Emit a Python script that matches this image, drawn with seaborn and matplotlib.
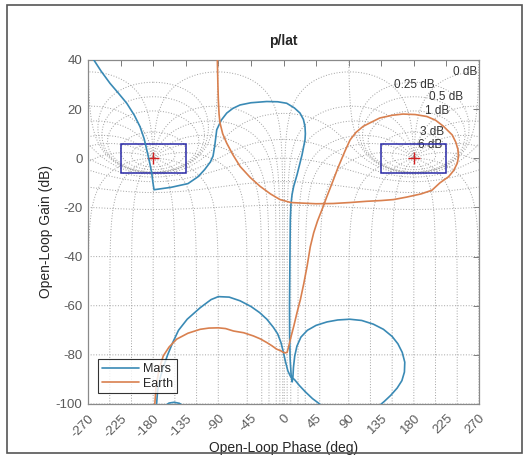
import numpy as np
import pandas as pd
import matplotlib
matplotlib.use("Agg")
import matplotlib.pyplot as plt
from matplotlib.lines import Line2D
from matplotlib.patches import Rectangle
import seaborn as sns

# ---- open-loop frequency responses (phase in deg, gain in dB) ----
mars_phase_a = [-263, -252, -239.6, -228, -216.5, -206, -198.2, -192.5, -188.9, -185, -182,
                -180.5, -178.8, -155, -131.9, -118, -108.9, -101, -97.3, -95, -92.2, -86,
                -78.4, -70, -60, -45, -23.2, -8, 4.4, 15, 22.8, 27.5, 29.7, 30.2, 29.7, 25.6,
                18.7, 14, 11.8, 10.2, 9.4, 9, 8.6, 8.3, 8.5, 9.2, 10.5, 12, 13, 13.8, 15.5,
                18.5, 24, 33, 45, 60, 75, 91.5, 108, 124, 138, 150, 158, 164, 167.5, 167,
                163.5, 157, 148, 139, 131]
mars_gain_a = [40.5, 35.5, 30.5, 26.5, 22.4, 17.5, 12.9, 8, 3.5, -1.5, -6,
               -9.5, -12.8, -11.8, -10.3, -7.5, -4.6, -1.5, 0.9, 5, 11.6, 15.5,
               18.4, 20.3, 21.7, 22.6, 23.1, 23, 22.4, 20.5, 18.4, 15.8, 12.9, 10, 7.5, 1.4,
               -6.7, -11.5, -14.8, -19, -25, -37, -50, -60, -73, -82, -88, -91, -89, -85, -80.5,
               -76.5, -72.8, -70, -68, -66.6, -65.8, -65.5, -66, -67.5, -69.6, -72.5, -75.5, -79,
               -83, -87, -90.5, -93.5, -96.5, -99, -101]

mars_phase_b = [-175.5, -174, -171, -166, -160, -153, -145, -133, -115, -100, -90, -75, -60,
                -45, -33, -23, -14, -8, -3.5, -0.5, 2.5, 6, 10, 15, 22, 30, 40, 50, 53]
mars_gain_b = [-101, -95, -90, -85, -80, -75, -70, -65.5, -60.8, -57.5, -56.3, -56.5, -58,
               -60.3, -62.8, -65.5, -68.8, -71.5, -75, -78.5, -82.5, -86.5, -89, -90, -92.5,
               -95, -97.8, -100, -101]

mars_phase_c = [-163, -158, -151, -144, -139]
mars_gain_c = [-100.6, -99.6, -99.3, -99.7, -100.6]

earth_phase = [-91.4, -91, -90.6, -90, -89, -87.7, -84, -78.5, -70, -60, -46, -32.4, -18, -4.8,
               10, 23, 45, 68.7, 92, 115, 135, 152, 170, 190, 205, 216, 228, 235, 240, 241.6,
               241, 238, 233, 221, 210, 198, 182, 165, 150, 133, 120, 110, 100, 92, 85, 80, 75,
               69, 64, 60, 53, 47, 41.7, 37, 32.6, 28, 23.4, 18.5, 14.3, 10.5, 7.4, 5, 2, -0.3,
               -4, -9.4, -16, -23, -32, -41.6, -55, -69, -80, -90, -103, -115, -132, -147.5,
               -158, -166, -172, -176, -178]
earth_gain = [40.5, 35, 30, 23.8, 18, 14.4, 10, 6.2, 1.5, -3.3, -7.8, -11.4, -14.5, -16.8,
              -18, -18.2, -18.5, -18.4, -18, -17.5, -17.2, -16.8, -15.8, -14.5, -13, -10, -7.5,
              -5, -2, 0.5, 3.5, 6.5, 9.5, 13, 15.5, 17, 17.8, 18, 17.5, 16.4, 14.5, 13, 10.5,
              7.5, 3, -0.5, -4, -8.7, -12.5, -15.5, -21, -25.5, -30.3, -36, -43.9, -51, -57.4,
              -63, -68.2, -72.5, -76.3, -79, -79.2, -79, -78.3, -77.7, -76.3, -75, -73.5, -72.3,
              -71, -70.3, -69.3, -69, -69.1, -69.6, -71.2, -73.6, -76.8, -80.4, -86, -93, -101]

series_names = ["Mars", "Earth"]
series_colors = {"Mars": "#3a8ab5", "Earth": "#d9804f"}

# closed-loop grid values
grid_gains_db = [6, 3, 1, 0.5, 0.25, 0, -1, -3, -6, -12, -20, -40, -60, -80, -100]
grid_phases = [-1, -5, -10, -20, -30, -50, -90, -120, -150, -180]
grid_labels = ["0 dB", "0.25 dB", "0.5 dB", "1 dB", "3 dB", "6 dB"]
grid_label_phase = [234, 152.5, 201, 195.5, 188.5, 186]
grid_label_gain = [35.2, 30.0, 25.0, 19.3, 10.8, 5.5]

# critical points and margin boxes
crit_phase = [-180, 180]
crit_gain = [0, 0]

sns.set_theme(style="white")
plt.rcParams["font.family"] = ["Liberation Sans", "DejaVu Sans"]
plt.rcParams["axes.unicode_minus"] = False

fig = plt.figure(figsize=(5.27, 4.55), dpi=100, facecolor="white")
ax = fig.add_axes([88 / 527, 1 - 404 / 455, (479 - 88) / 527, (404 - 60) / 455])

grid_style = dict(color="#a0a0a0", ls=(0, (1, 1.8)), lw=0.7, zorder=1)


def wrap_to(ph, idx, target):
    """Shift an unwrapped phase array by multiples of 360 so ph[idx] == target."""
    k = np.round((target - ph[idx]) / 360.0)
    return ph + 360.0 * k


# constant closed-loop gain contours
th = np.linspace(-2 * np.pi + 1e-4, -1e-4, 4001)
for g in grid_gains_db:
    m = 10 ** (g / 20)
    T = m * np.exp(1j * th)
    G = T / (1 - T)
    ph = np.degrees(np.unwrap(np.angle(G)))
    ph = wrap_to(ph, len(th) // 2, -180.0)
    mag = 20 * np.log10(np.abs(G))
    for shift in (0, 360):
        ax.plot(ph + shift, mag, **grid_style)

# constant closed-loop phase contours
mm = np.concatenate([np.logspace(-6, -0.3, 3000), np.linspace(0.5, 2, 6000), np.logspace(0.31, 6, 3000)])
all_phases = grid_phases + [-360 - p for p in grid_phases if p != -180]
for p in all_phases:
    T = mm * np.exp(1j * np.radians(p))
    G = T / (1 - T)
    ph = np.degrees(np.unwrap(np.angle(G)))
    ph = wrap_to(ph, 0, p)
    mag = 20 * np.log10(np.abs(G))
    for shift in (0, 360):
        ax.plot(ph + shift, mag, **grid_style)

for txt, px, gy in zip(grid_labels, grid_label_phase, grid_label_gain):
    ax.text(px, gy, txt, fontsize=8.5, color="#333333", ha="left", va="center", zorder=3)

# margin boxes and critical points
for cp in crit_phase:
    ax.add_patch(Rectangle((cp - 45, -6), 90, 12, fill=False, ec="#2a2aa8", lw=1.1, zorder=3))
ax.plot(crit_phase, crit_gain, ls="none", marker="+", ms=8, mew=1.0, color="#d22020", zorder=4)

# response curves
frames = [
    pd.DataFrame({"phase": mars_phase_a, "gain": mars_gain_a, "series": "Mars", "segment": "m1"}),
    pd.DataFrame({"phase": mars_phase_b, "gain": mars_gain_b, "series": "Mars", "segment": "m2"}),
    pd.DataFrame({"phase": mars_phase_c, "gain": mars_gain_c, "series": "Mars", "segment": "m3"}),
    pd.DataFrame({"phase": earth_phase, "gain": earth_gain, "series": "Earth", "segment": "e1"}),
]
df = pd.concat(frames, ignore_index=True)
sns.lineplot(data=df, x="phase", y="gain", hue="series", units="segment", estimator=None,
             sort=False, palette=series_colors, hue_order=series_names, legend=False,
             lw=1.2, ax=ax, zorder=5)

ax.set_xlim(-270, 270)
ax.set_ylim(-100, 40)
ax.set_xticks(np.arange(-270, 271, 45))
ax.set_yticks(np.arange(-100, 41, 20))
ax.set_xticklabels([str(v) for v in range(-270, 271, 45)], rotation=45, ha="right",
                   rotation_mode="anchor")
ax.set_yticklabels([str(v) for v in range(-100, 41, 20)])
ax.tick_params(direction="in", length=4, width=0.7, color="#7a7a7a", top=True, right=True,
               labelsize=9.5, labelcolor="#5a5a5a", pad=4)
ax.tick_params(axis="x", pad=6)
for s in ax.spines.values():
    s.set_color("#8a8a8a")
    s.set_linewidth(0.9)
ax.set_xlabel("Open-Loop Phase (deg)", fontsize=10, color="#262626", labelpad=1)
ax.set_ylabel("Open-Loop Gain (dB)", fontsize=10, color="#262626", labelpad=2)
ax.set_title("p/lat", fontsize=10, fontweight="bold", color="#262626", pad=11)

handles = [Line2D([], [], color=series_colors[n], lw=1.2) for n in series_names]
leg = ax.legend(handles, series_names, loc="lower left", bbox_to_anchor=(0.025, 0.031),
                borderaxespad=0, fontsize=9, frameon=True, fancybox=False,
                handlelength=3.0, handletextpad=0.3, borderpad=0.3, labelspacing=0.2)
leg.get_frame().set_edgecolor("black")
leg.get_frame().set_linewidth(0.8)
leg.set_zorder(10)

fig.patches.append(Rectangle((7 / 527, 1 - 453 / 455), (522 - 7) / 527, (453 - 5) / 455,
                             transform=fig.transFigure, fill=False, ec="#555555", lw=1.2))

fig.savefig("out.png", dpi=100, facecolor="white")
